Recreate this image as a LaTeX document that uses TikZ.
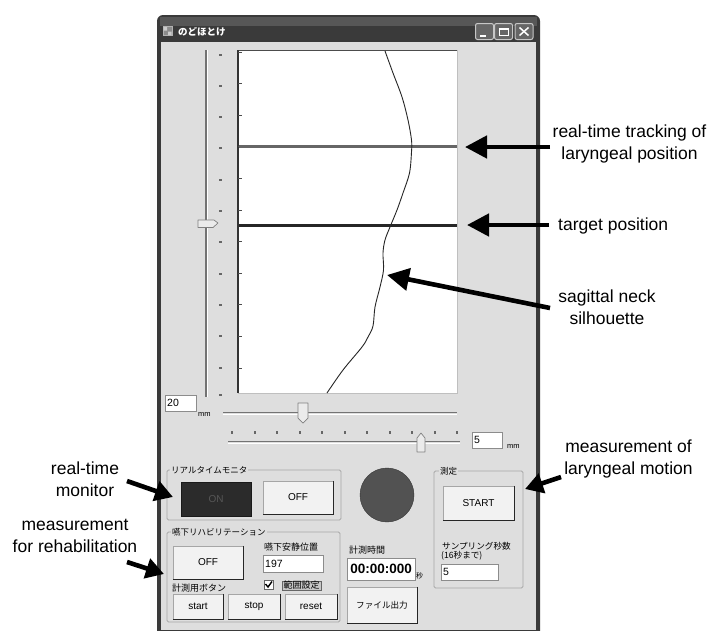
\documentclass[tikz,border=0pt]{standalone}
\usepackage{fontspec}
\setmainfont{Liberation Sans}
\newfontfamily\jp{Noto Sans CJK JP}
\usetikzlibrary{arrows.meta}
\definecolor{winbg}{HTML}{DEDEDE}
\definecolor{frame}{HTML}{3A3A3A}
\definecolor{btnfill}{HTML}{F2F2F2}
\definecolor{groupline}{HTML}{A8A8A8}

\begin{document}
\begin{tikzpicture}[x=1pt,y=-1pt,
  note/.style={font=\fontsize{17.5}{22}\selectfont, align=center, inner sep=0pt},
  pointer/.style={line width=4.6pt, -{Triangle[length=22pt,width=22pt]}},
  smallpointer/.style={line width=4.6pt, -{Triangle[length=18pt,width=20pt]}},
  btn/.style={draw=black!35, fill=btnfill, inner sep=0pt, font=\fontsize{10}{12}\selectfont},
  btnshade/.style={draw=black!85, line width=1.3pt},
  tbox/.style={draw=black!45, fill=white, inner xsep=2pt, inner ysep=0pt, anchor=north west, align=left, font=\fontsize{10.5}{12}\selectfont},
  grp/.style={draw=groupline, line width=0.8pt, rounded corners=1.5pt},
  grplabel/.style={fill=winbg, inner xsep=1pt, inner ysep=0pt, anchor=west, font=\jp\fontsize{8.5}{10}\selectfont},
  jlabel/.style={inner sep=0pt, anchor=west, font=\jp\fontsize{9}{10}\selectfont},
  unit/.style={inner sep=0pt, anchor=west, font=\fontsize{7.5}{9}\selectfont},
  track/.style={draw=black!55, line width=1.2pt},
  trackhi/.style={draw=white, line width=1pt},
  thumb/.style={draw=black!50, fill=black!8, line width=0.7pt, line join=round}]

\useasboundingbox (0,0) rectangle (710,630);
\fill[white] (0,0) rectangle (710,630);

% ---- window frame, title bar and client area ----
\fill[frame, rounded corners=6pt] (157,15) rectangle (540,660);
\fill[black!66] (160,17) rectangle (537,26);
\fill[winbg] (161,42) rectangle (536,630);
\node[inner sep=0pt, draw=black!30, fill=black!45, minimum size=9pt] (icon) at (167.5,31) {};
\fill[black!20] (163.5,27) rectangle (167,30.5) (168,31.5) rectangle (171.5,35);
\node[inner sep=0pt, anchor=west, text=white, font=\jp\bfseries\fontsize{9.5}{10}\selectfont] (title) at (178,31.5) {のどほとけ};

% caption buttons
\node[draw=black!22, fill=black!60, rounded corners=2pt, line width=1pt, minimum width=18pt, minimum height=16pt, inner sep=0pt] (bmin) at (484.5,31.5) {};
\node[draw=black!22, fill=black!60, rounded corners=2pt, line width=1pt, minimum width=18pt, minimum height=16pt, inner sep=0pt] (bmax) at (503.5,31.5) {};
\node[draw=black!22, fill=black!60, rounded corners=2pt, line width=1pt, minimum width=18pt, minimum height=16pt, inner sep=0pt] (bcls) at (524,31.5) {};
\fill[white] (480,34.5) rectangle (486,36.5);
\draw[white, line width=0.9pt] (499,28) rectangle (508.5,35.5);
\draw[white, line width=2pt] (499,28.5) -- (508.5,28.5);
\draw[white, line width=1.5pt] (519.5,27.5) -- (528.5,35.5) (528.5,27.5) -- (519.5,35.5);

% ---- vertical slider ----
\draw[track] (206,50) -- (206,397);
\draw[trackhi] (207.8,50) -- (207.8,397);
\foreach \k in {0,...,10} \fill[black!60] (219,53.5+31.3*\k) rectangle (221.8,55.5+31.3*\k);
\fill[black!60] (219,393.5) rectangle (221.8,395.5);
\draw[thumb] (198,220) -- (214,220) -- (218,223) -- (213,227.5) -- (198,227.5) -- cycle;

% ---- plot area ----
\node[fill=white, draw=black!25, minimum width=219pt, minimum height=343pt, inner sep=0pt, anchor=north west] (plot) at (238,50) {};
\draw[black!70, line width=0.9pt] (238,50) -- (457,50);
\draw[black!80, line width=1.2pt] (238,50) -- (238,393);
\foreach \k in {0,...,10} \draw[black!70, line width=0.8pt] (238,52+31.6*\k) -- (242,52+31.6*\k);
\draw[black!60, line width=3pt] (238.5,146) -- (457,146);
\draw[black!85, line width=3pt] (238.5,225) -- (457,225);
\draw[black!85, line width=0.9pt, line join=round] plot[smooth, tension=0.55] coordinates {
  (385,51) (393,73) (402,97) (408,120) (411.5,140) (411.5,152) (409.5,173) (403,193)
  (397,210) (390,227) (385,240) (383,253) (383.5,270) (380,287) (375,307) (373,326)
  (368,337) (362,347) (343,370) (327,393)};

% ---- horizontal sliders ----
\node[tbox, text width=27pt, minimum height=16pt] (v20) at (165,395) {20};
\node[unit] (mm1) at (198,414) {mm};
\draw[track] (223,412.5) -- (457,412.5);
\draw[trackhi] (223,414.3) -- (457,414.3);
\draw[thumb] (298,403) -- (308,403) -- (308,418) -- (303,423) -- (298,418) -- cycle;
\foreach \k in {0,...,10} \fill[black!60] (231.3+22.5*\k,430.5) rectangle (233.1+22.5*\k,433.5);
\draw[track] (228,441.5) -- (460,441.5);
\draw[trackhi] (228,443.3) -- (460,443.3);
\draw[thumb] (417,438) -- (421,433) -- (425,438) -- (425,452) -- (417,452) -- cycle;
\node[tbox, text width=26pt, minimum height=16pt] (v5) at (472,432) {5};
\node[unit] (mm2) at (507,446.5) {mm};

% ---- group: real-time monitor ----
\draw[grp] (167,470) rectangle (341,520);
\node[grplabel] (g1) at (170,470) {リアルタイムモニタ};
\node[draw=black!90, fill=black!83, minimum width=70pt, minimum height=34pt, inner sep=0pt, text=black!66, font=\fontsize{10}{12}\selectfont] (on1) at (216,499) {ON};
\node[btn, minimum width=70pt, minimum height=33pt] (off1) at (298,497.5) {OFF};

% status lamp
\node[circle, draw=black!80, fill=black!68, minimum size=54pt, inner sep=0pt] (lamp) at (387,495) {};

% ---- group: measurement ----
\draw[grp] (434,471) rectangle (523,588);
\node[grplabel] (g3) at (439,471) {測定};
\node[btn, minimum width=71pt, minimum height=34pt] (start) at (478.5,503) {START};
\node[jlabel, font=\jp\fontsize{8.6}{10}\selectfont] (samp) at (442,546) {サンプリング秒数};
\node[jlabel, font=\jp\fontsize{8.6}{10}\selectfont] (samp2) at (441,556) {(16秒まで)};
\node[tbox, text width=53pt, minimum height=16pt] (vs) at (441,564) {5};

% ---- group: swallowing rehabilitation ----
\draw[grp] (167,532) rectangle (340,622);
\node[grplabel] (g2) at (171,532) {嚥下リハビリテーション};
\node[btn, minimum width=70pt, minimum height=33pt] (off2) at (208,562.5) {OFF};
\node[jlabel] (rest) at (264,547) {嚥下安静位置};
\node[tbox, text width=56pt, minimum height=17pt] (v197) at (263,555) {197};
\node[draw=black!60, fill=white, minimum size=9pt, inner sep=0pt] (chk) at (268.5,584.5) {};
\draw[black, line width=1.4pt] (265.5,584) -- (268,587) -- (272,581.5);
\node[draw=black!60, fill=black!22, inner xsep=1.5pt, inner ysep=0.5pt, font=\jp\fontsize{9}{10}\selectfont] (range) at (301.5,585.5) {範囲設定};
\node[jlabel] (mbtn) at (172,588.5) {計測用ボタン};
\node[btn, minimum width=50pt, minimum height=25pt] (bstart) at (198,606.5) {start};
\node[btn, minimum width=52pt, minimum height=25pt] (bstop) at (254,606.5) {stop};
\node[btn, minimum width=52pt, minimum height=25pt] (breset) at (311,606.5) {reset};

% ---- elapsed time and file output ----
\node[jlabel] (mtime) at (349,550) {計測時間};
\node[tbox, text width=64pt, minimum height=22pt, align=center, font=\bfseries\fontsize{13.5}{14}\selectfont] (vtime) at (347,558) {00:00:000};
\node[unit, font=\jp\fontsize{7}{8}\selectfont] (sec) at (416,575.5) {秒};
\node[btn, minimum width=70pt, minimum height=36pt, font=\jp\fontsize{8.6}{10}\selectfont] (file) at (382,605) {ファイル出力};

% button edges
\foreach \b in {off1,start,off2,bstart,bstop,breset,file}
  \draw[btnshade] (\b.north east) -- (\b.south east) -- (\b.south west);

% ---- annotations ----
\node[note] (n1) at (629.5,144) {real-time tracking of\\laryngeal position};
\node[note, anchor=west] (n2) at (558,226) {target position};
\node[note] (n3) at (607,307) {sagittal neck\\silhouette};
\node[note] (n4) at (85,479.5) {real-time\\monitor};
\node[note] (n5) at (75,536) {measurement\\for rehabilitation};
\node[note] (n6) at (628.5,458.5) {measurement of\\laryngeal motion};

\coordinate (a1s) at (550,147);   \coordinate (a1t) at (465,147);
\coordinate (a2s) at (549,225);   \coordinate (a2t) at (467,225);
\coordinate (a3s) at (550,308);   \coordinate (a3t) at (387,275);
\coordinate (a4s) at (127,481);   \coordinate (a4t) at (173,497);
\coordinate (a5s) at (127,562);   \coordinate (a5t) at (164,574);
\coordinate (a6s) at (561,477);   \coordinate (a6t) at (525,489);
\draw[pointer] (a1s) -- (a1t);
\draw[pointer] (a2s) -- (a2t);
\draw[pointer] (a3s) -- (a3t);
\draw[smallpointer] (a4s) -- (a4t);
\draw[smallpointer] (a5s) -- (a5t);
\draw[smallpointer] (a6s) -- (a6t);
\end{tikzpicture}
\end{document}
